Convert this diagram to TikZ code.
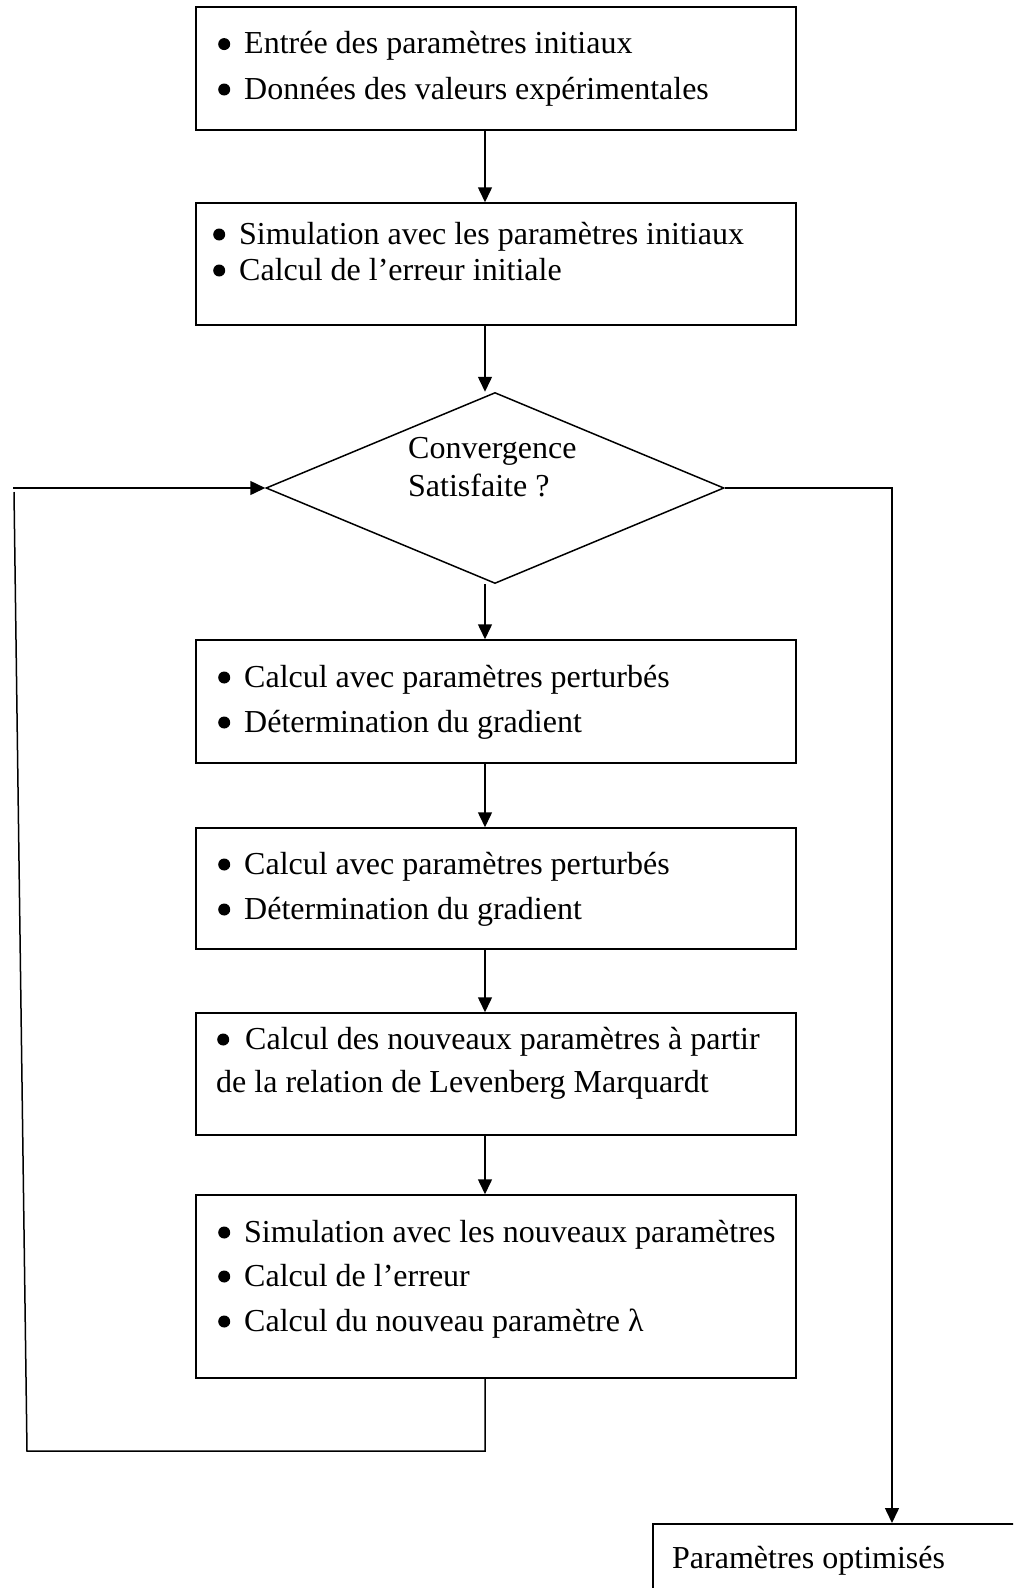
\documentclass[tikz,border=0pt]{standalone}
\usepackage{fontspec}
\setmainfont{Liberation Serif}
\usetikzlibrary{arrows.meta,shapes.geometric}
\newcommand{\mybul}[1][26pt]{\makebox[#1][l]{\raisebox{3.5pt}{\tikz\fill[black] (0pt,0pt) circle[radius=6pt];}}}
\begin{document}
\begin{tikzpicture}[x=1pt,y=-1pt,
  box/.style={draw, line width=1.5pt, inner sep=0pt},
  txt/.style={anchor=west, inner sep=0pt, font=\fontsize{32}{38}\selectfont, text height=24pt, text depth=8pt},
  conn/.style={line width=1.5pt},
  arr/.style={line width=1.5pt, -{Triangle[length=15pt,width=14pt]}}]
\useasboundingbox (0,0) rectangle (1013,1588);
\clip (0,0) rectangle (1013,1588);
\fill[white] (0,0) rectangle (1013,1588);
% columns
\coordinate (c) at (485,0);
\coordinate (rc) at (892,0);
\coordinate (ls) at (13,0);
\coordinate (lb) at (27,1451);
\coordinate (lt) at (14,492);
% boxes
\node[box, minimum width=600pt, minimum height=123pt] (b1) at (496,68.5) {};
\node[box, minimum width=600pt, minimum height=122pt] (b2) at (496,264) {};
\node[box, diamond, minimum width=458pt, minimum height=191pt] (dec) at (495,488) {};
\node[box, minimum width=600pt, minimum height=123pt] (b3) at (496,701.5) {};
\node[box, minimum width=600pt, minimum height=121pt] (b4) at (496,888.5) {};
\node[box, minimum width=600pt, minimum height=122pt] (b5) at (496,1074) {};
\node[box, minimum width=600pt, minimum height=183pt] (b6) at (496,1286.5) {};
\node[box, anchor=north west, minimum width=420pt, minimum height=120pt] (fin) at (652,1523) {};
% texts
\node[txt] (t1a) at (218,45.6) {\mybul Entrée des paramètres initiaux};
\node[txt] (t1b) at (218,91) {\mybul Données des valeurs expérimentales};
\node[txt] (t2a) at (213,236) {\mybul Simulation avec les paramètres initiaux};
\node[txt] (t2b) at (213,272) {\mybul Calcul de l’erreur initiale};
\node[txt] (td1) at (408,450) {Convergence};
\node[txt] (td2) at (408,488) {Satisfaite ?};
\node[txt] (t3a) at (218,679) {\mybul Calcul avec paramètres perturbés};
\node[txt] (t3b) at (218,724) {\mybul Détermination du gradient};
\node[txt] (t4a) at (218,866) {\mybul Calcul avec paramètres perturbés};
\node[txt] (t4b) at (218,911) {\mybul Détermination du gradient};
\node[txt] (t5a) at (217,1041) {\mybul[28pt]Calcul des nouveaux paramètres à partir};
\node[txt] (t5b) at (216,1084) {de la relation de Levenberg Marquardt};
\node[txt] (t6a) at (218,1234) {\mybul Simulation avec les nouveaux paramètres};
\node[txt] (t6b) at (218,1278) {\mybul Calcul de l’erreur};
\node[txt] (t6c) at (218,1323) {\mybul Calcul du nouveau paramètre λ};
\node[txt] (tf) at (672,1560) {Paramètres optimisés};
% connectors
\draw[arr] (b1.south -| c) -- (b2.north -| c);
\draw[arr] (b2.south -| c) -- (c |- dec.north);
\draw[arr] (c |- dec.south) -- (b3.north -| c);
\draw[arr] (b3.south -| c) -- (b4.north -| c);
\draw[arr] (b4.south -| c) -- (b5.north -| c);
\draw[arr] (b5.south -| c) -- (b6.north -| c);
\draw[conn] (b6.south -| c) -- (c |- lb) -- (lb) -- (lt);
\draw[arr] (ls |- dec.west) -- (dec.west);
\draw[arr] (dec.east) -- (dec.east -| rc) -- (rc |- fin.north);
\end{tikzpicture}
\end{document}
